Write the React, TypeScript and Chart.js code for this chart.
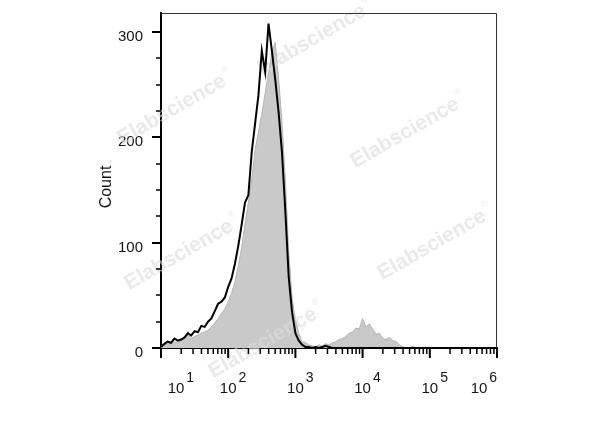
import React, { useEffect, useRef } from "react";
import { Chart, registerables } from "chart.js";

Chart.register(...registerables);

// log10 of the bin centres (channel value = 10^exponent)
const binExponents = [
  1.0, 1.05, 1.1, 1.15, 1.2, 1.25, 1.3, 1.35, 1.4, 1.45,
  1.5, 1.55, 1.6, 1.65, 1.7, 1.75, 1.8, 1.85, 1.9, 1.95,
  2.0, 2.05, 2.1, 2.15, 2.2, 2.25, 2.3, 2.35, 2.4, 2.45,
  2.5, 2.55, 2.6, 2.65, 2.7, 2.75, 2.8, 2.85, 2.9, 2.95,
  3.0, 3.05, 3.1, 3.15, 3.2, 3.25, 3.3, 3.35, 3.4, 3.45,
  3.5, 3.55, 3.6, 3.65, 3.7, 3.75, 3.8, 3.85, 3.9, 3.95,
  4.0, 4.05, 4.1, 4.15, 4.2, 4.25, 4.3, 4.35, 4.4, 4.45,
  4.5, 4.55, 4.6, 4.65, 4.7, 4.75, 4.8, 4.85, 4.9, 4.95,
  5.0, 5.05, 5.1, 5.15, 5.2, 5.25, 5.3, 5.35, 5.4, 5.45,
  5.5, 5.55, 5.6, 5.65, 5.7, 5.75, 5.8, 5.85, 5.9, 5.95,
  6.0,
];

// grey filled histogram (control)
const controlCounts = [
  2, 3, 4, 4, 6, 5, 7, 9, 16, 9,
  11, 12, 14, 15, 17, 20, 24, 28, 33, 37,
  44, 52, 63, 78, 95, 118, 138, 160, 188, 205,
  222, 242, 262, 280, 290, 256, 215, 160, 92, 48,
  27, 14, 6, 5, 3, 2, 1, 3, 2, 4,
  3, 5, 6, 8, 9, 11, 14, 15, 19, 18,
  28, 20, 23, 18, 13, 14, 9, 8, 10, 7,
  6, 3, 1, 0, 0, 2, 0, 0, 0, 0,
  0, 0, 0, 0, 0, 0, 0, 0, 0, 0,
  0, 0, 0, 0, 0, 0, 0, 0, 0, 0,
  0,
];

// black outline histogram (sample)
const sampleCounts = [
  1, 4, 6, 5, 9, 7, 8, 10, 14, 12,
  16, 15, 21, 20, 25, 28, 35, 42, 44, 48,
  58, 66, 80, 97, 117, 138, 145, 186, 213, 240,
  282, 262, 308, 282, 255, 224, 186, 130, 68, 34,
  14, 7, 3, 1, 1, 0, 1, 0, 1, 2,
  1, 0, 0, 0, 0, 0, 0, 0, 0, 0,
  0, 0, 0, 0, 0, 0, 0, 0, 0, 0,
  0, 0, 0, 0, 0, 0, 0, 0, 0, 0,
  0, 0, 0, 0, 0, 0, 0, 0, 0, 0,
  0, 0, 0, 0, 0, 0, 0, 0, 0, 0,
  0,
];

const xDecades = [1, 2, 3, 4, 5, 6];
const xLabelShift = [15, 0, 0, 0, 0, -18];
const yMajorStep = 100;
const yMinorStep = 25;
const yAxisTitle = "Count";
const watermarkText = "Elabscience";
const watermarkSpots = [
  [312, 40],
  [172, 110],
  [405, 133],
  [179, 255],
  [432, 245],
  [263, 343],
];

const FONT = '"Liberation Sans", Arial, Helvetica, sans-serif';
const TEXT_COLOR = "#141414";

export default function App() {
  const canvasRef = useRef<HTMLCanvasElement | null>(null);

  useEffect(() => {
    document.body.style.margin = "0";
    const canvas = canvasRef.current;
    if (!canvas) return;

    const toPoints = (vals: number[]) =>
      vals.map((v, i) => ({ x: Math.pow(10, binExponents[i]), y: v }));

    const drawWatermarks = (ctx: CanvasRenderingContext2D) => {
      ctx.save();
      for (const [cx, cy] of watermarkSpots) {
        ctx.save();
        ctx.translate(cx, cy);
        ctx.rotate((-30 * Math.PI) / 180);
        ctx.font = `bold 21px ${FONT}`;
        ctx.fillStyle = "rgba(220,220,220,0.62)";
        ctx.textAlign = "center";
        ctx.textBaseline = "middle";
        ctx.fillText(watermarkText, 0, 0);
        const w = ctx.measureText(watermarkText).width;
        ctx.font = `9px ${FONT}`;
        ctx.textAlign = "left";
        ctx.fillText("®", w / 2 + 2, -9);
        ctx.restore();
      }
      ctx.restore();
    };

    const fcsPlugin = {
      id: "fcsAxes",
      afterDatasetDraw(chart: any, args: any) {
        if (args.index === 1) drawWatermarks(chart.ctx);
      },
      afterDraw(chart: any) {
        const ctx: CanvasRenderingContext2D = chart.ctx;
        const { left, right, top, bottom } = chart.chartArea;
        const xs = chart.scales.x;
        const ys = chart.scales.y;
        ctx.save();
        // frame (top and right)
        ctx.strokeStyle = "#333";
        ctx.lineWidth = 1;
        ctx.beginPath();
        ctx.moveTo(left, top + 0.5);
        ctx.lineTo(right - 0.5, top + 0.5);
        ctx.lineTo(right - 0.5, bottom);
        ctx.stroke();

        // x ticks
        ctx.strokeStyle = "#000";
        for (let d = xDecades[0]; d <= xDecades[xDecades.length - 1]; d++) {
          const px = xs.getPixelForValue(Math.pow(10, d));
          ctx.lineWidth = 2;
          ctx.beginPath();
          ctx.moveTo(px, bottom);
          ctx.lineTo(px, bottom + 10);
          ctx.stroke();
          if (d < xDecades[xDecades.length - 1]) {
            for (let m = 2; m <= 9; m++) {
              const mx = xs.getPixelForValue(m * Math.pow(10, d));
              ctx.lineWidth = 1.5;
              ctx.beginPath();
              ctx.moveTo(mx, bottom);
              ctx.lineTo(mx, bottom + 6);
              ctx.stroke();
            }
          }
        }
        // y ticks
        for (let v = 0; v <= ys.max; v += yMinorStep) {
          const py = Math.round(ys.getPixelForValue(v));
          const major = v % yMajorStep === 0;
          ctx.lineWidth = major ? 2 : 1.5;
          ctx.beginPath();
          ctx.moveTo(left, py);
          ctx.lineTo(left - (major ? 9 : 5), py);
          ctx.stroke();
        }

        // x labels: 10 with superscript exponent
        ctx.fillStyle = TEXT_COLOR;
        ctx.textBaseline = "alphabetic";
        xDecades.forEach((d, i) => {
          const px = xs.getPixelForValue(Math.pow(10, d)) + xLabelShift[i];
          ctx.font = `15px ${FONT}`;
          ctx.textAlign = "center";
          ctx.fillText("10", px, 393);
          const w = ctx.measureText("10").width;
          ctx.font = `14px ${FONT}`;
          ctx.textAlign = "left";
          ctx.fillText(String(d), px + w / 2 + 2, 382);
        });

        // y title
        ctx.save();
        ctx.translate(107, 187);
        ctx.rotate(-Math.PI / 2);
        ctx.font = `16px ${FONT}`;
        ctx.textAlign = "center";
        ctx.textBaseline = "middle";
        ctx.fillStyle = TEXT_COLOR;
        ctx.fillText(yAxisTitle, 0, 0);
        ctx.restore();
        ctx.restore();
      },
    };

    const chart = new Chart(canvas, {
      type: "line",
      data: {
        datasets: [
          {
            label: "Sample",
            data: toPoints(sampleCounts),
            borderColor: "#000",
            borderWidth: 2,
            fill: false,
            pointRadius: 0,
            tension: 0,
          },
          {
            label: "Control",
            data: toPoints(controlCounts),
            borderColor: "#b4b4b4",
            borderWidth: 1,
            backgroundColor: "#c9c9c9",
            fill: "origin",
            pointRadius: 0,
            tension: 0,
          },
        ],
      },
      options: {
        animation: false,
        responsive: false,
        parsing: true,
        layout: { padding: { left: 0, top: 13, right: 103, bottom: 0 } },
        plugins: {
          legend: { display: false },
          tooltip: { enabled: false },
        },
        scales: {
          x: {
            type: "logarithmic",
            min: 10,
            max: 1e6,
            grid: { display: false },
            ticks: { display: false },
            border: { display: true, color: "#000", width: 2 },
            afterFit: (s: any) => {
              s.height = 79;
              s.paddingLeft = 0;
              s.paddingRight = 0;
              s.paddingTop = 0;
              s.paddingBottom = 0;
            },
          },
          y: {
            type: "linear",
            min: 0,
            max: 318,
            grid: { display: false, drawTicks: false },
            border: { display: true, color: "#000", width: 2 },
            ticks: {
              stepSize: yMajorStep,
              includeBounds: false,
              padding: 18,
              labelOffset: 5,
              color: TEXT_COLOR,
              font: { family: FONT, size: 15 },
            },
            afterFit: (s: any) => {
              s.width = 161;
              s.paddingLeft = 0;
              s.paddingRight = 0;
              s.paddingTop = 0;
              s.paddingBottom = 0;
            },
          },
        },
      },
      plugins: [fcsPlugin],
    });

    return () => chart.destroy();
  }, []);

  return (
    <div style={{ width: 600, height: 427 }}>
      <canvas ref={canvasRef} width={600} height={427} style={{ display: "block" }} />
    </div>
  );
}
